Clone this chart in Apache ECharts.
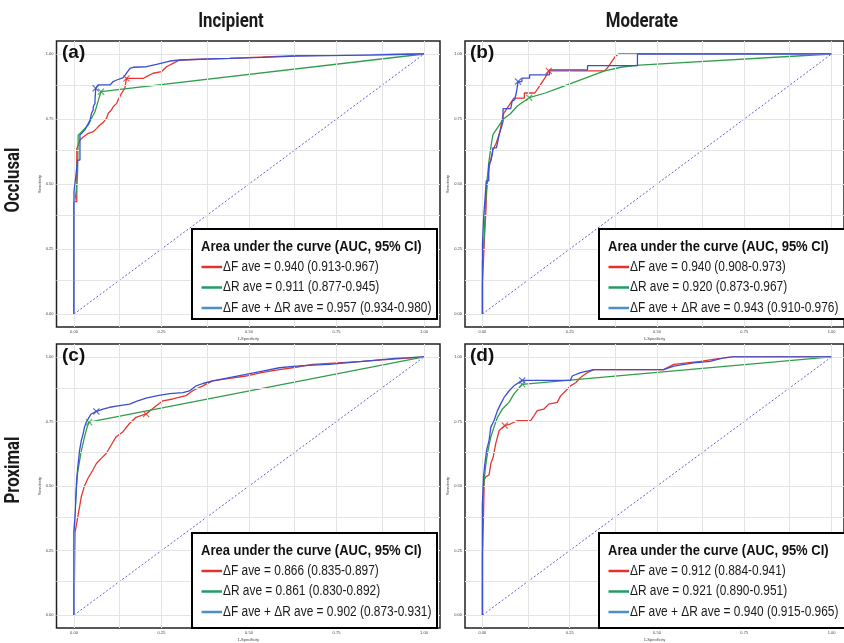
<!DOCTYPE html>
<html><head><meta charset="utf-8">
<script src="https://cdn.jsdelivr.net/npm/echarts@6/dist/echarts.min.js"></script>
<style>html,body{margin:0;padding:0;background:#fff}#c{width:844px;height:643px}</style>
</head><body><div id="c"></div>
<script>
// ---------- data ----------
const colHeaders = ['Incipient', 'Moderate'];
const rowHeaders = ['Occlusal', 'Proximal'];
const panelTags = ['(a)', '(b)', '(c)', '(d)'];
const tickValues = [0, 0.25, 0.5, 0.75, 1];
const tickLabels = ['0.00', '0.25', '0.50', '0.75', '1.00'];
const gridValues = [0, 0.125, 0.25, 0.375, 0.5, 0.625, 0.75, 0.875, 1];
const xAxisTitle = '1-Specificity';
const yAxisTitle = 'Sensitivity';
const legendTitle = 'Area under the curve (AUC, 95% CI)';
const diag = [[0, 0], [1, 1]];

const a_auc = ['ΔF ave = 0.940 (0.913-0.967)', 'ΔR ave = 0.911 (0.877-0.945)', 'ΔF ave + ΔR ave = 0.957 (0.934-0.980)'];
const b_auc = ['ΔF ave = 0.940 (0.908-0.973)', 'ΔR ave = 0.920 (0.873-0.967)', 'ΔF ave + ΔR ave = 0.943 (0.910-0.976)'];
const c_auc = ['ΔF ave = 0.866 (0.835-0.897)', 'ΔR ave = 0.861 (0.830-0.892)', 'ΔF ave + ΔR ave = 0.902 (0.873-0.931)'];
const d_auc = ['ΔF ave = 0.912 (0.884-0.941)', 'ΔR ave = 0.921 (0.890-0.951)', 'ΔF ave + ΔR ave = 0.940 (0.915-0.965)'];

// (a) occlusal incipient
const a_F = [[0,0],[0,0.432],[0.008,0.432],[0.008,0.637],[0.012,0.65],[0.017,0.669],[0.027,0.682],[0.041,0.695],[0.055,0.701],[0.065,0.714],[0.074,0.727],[0.084,0.737],[0.093,0.753],[0.098,0.772],[0.107,0.785],[0.112,0.797],[0.122,0.81],[0.126,0.823],[0.131,0.836],[0.136,0.849],[0.145,0.868],[0.15,0.906],[0.198,0.906],[0.207,0.913],[0.226,0.926],[0.25,0.932],[0.264,0.951],[0.283,0.964],[0.302,0.977],[0.444,0.983],[0.634,0.994],[1,1]];
const a_R = [[0,0],[0,0.419],[0.005,0.458],[0.008,0.496],[0.01,0.535],[0.012,0.688],[0.022,0.701],[0.031,0.714],[0.041,0.727],[0.05,0.753],[0.06,0.778],[0.067,0.81],[0.077,0.855],[1,1]];
const a_FR = [[0,0],[0,0.471],[0.005,0.471],[0.005,0.528],[0.01,0.528],[0.01,0.592],[0.017,0.592],[0.017,0.688],[0.022,0.695],[0.031,0.708],[0.036,0.721],[0.041,0.733],[0.046,0.746],[0.048,0.759],[0.05,0.772],[0.055,0.785],[0.055,0.797],[0.06,0.81],[0.06,0.823],[0.062,0.868],[0.069,0.881],[0.103,0.881],[0.112,0.894],[0.122,0.9],[0.141,0.909],[0.15,0.926],[0.16,0.945],[0.169,0.949],[0.207,0.951],[0.236,0.96],[0.274,0.973],[0.302,0.977],[0.387,0.981],[0.444,0.983],[0.539,0.987],[0.634,0.992],[0.824,0.996],[1,1]];
const a_cut = [[0.15,0.906],[0.077,0.855],[0.062,0.868]];

// (b) occlusal moderate
const b_F = [[0,0],[0,0.12],[0.003,0.12],[0.003,0.21],[0.006,0.21],[0.006,0.3],[0.01,0.4],[0.012,0.47],[0.015,0.52],[0.02,0.57],[0.025,0.6],[0.03,0.63],[0.04,0.66],[0.05,0.7],[0.055,0.74],[0.06,0.77],[0.07,0.79],[0.08,0.81],[0.09,0.83],[0.12,0.83],[0.12,0.85],[0.15,0.85],[0.16,0.87],[0.17,0.89],[0.18,0.91],[0.19,0.935],[0.35,0.935],[0.36,0.95],[0.37,0.97],[0.38,0.99],[0.39,1],[1,1]];
const b_R = [[0,0],[0,0.2],[0.005,0.3],[0.008,0.4],[0.012,0.5],[0.018,0.58],[0.025,0.65],[0.03,0.69],[0.04,0.71],[0.05,0.73],[0.06,0.75],[0.08,0.77],[0.1,0.8],[0.134,0.832],[0.18,0.85],[0.22,0.87],[0.26,0.89],[0.3,0.91],[0.35,0.935],[0.4,0.95],[0.45,0.957],[1,1]];
const b_FR = [[0,0],[0,0.27],[0.004,0.27],[0.004,0.385],[0.007,0.385],[0.007,0.436],[0.011,0.512],[0.018,0.512],[0.018,0.576],[0.024,0.589],[0.028,0.614],[0.03,0.639],[0.04,0.639],[0.045,0.671],[0.049,0.697],[0.054,0.716],[0.059,0.741],[0.059,0.79],[0.081,0.79],[0.085,0.818],[0.092,0.824],[0.097,0.85],[0.102,0.894],[0.113,0.894],[0.113,0.907],[0.135,0.907],[0.135,0.92],[0.192,0.92],[0.192,0.939],[0.301,0.939],[0.301,0.955],[0.444,0.955],[0.444,1],[1,1]];
const b_cut = [[0.19,0.935],[0.134,0.832],[0.102,0.894]];

// (c) proximal incipient
const c_F = [[0,0],[0.003,0.32],[0.007,0.351],[0.012,0.357],[0.016,0.42],[0.021,0.46],[0.03,0.5],[0.04,0.53],[0.054,0.562],[0.064,0.587],[0.078,0.607],[0.092,0.626],[0.106,0.658],[0.12,0.69],[0.139,0.709],[0.158,0.741],[0.177,0.766],[0.206,0.779],[0.235,0.811],[0.254,0.83],[0.282,0.837],[0.32,0.85],[0.339,0.869],[0.368,0.888],[0.396,0.907],[0.444,0.917],[0.491,0.926],[0.539,0.94],[0.587,0.951],[0.634,0.96],[0.682,0.971],[0.824,0.983],[1,1]];
const c_R = [[0,0],[0,0.32],[0.005,0.45],[0.01,0.55],[0.02,0.63],[0.03,0.69],[0.038,0.73],[0.043,0.747],[1,1]];
const c_FR = [[0,0],[0,0.319],[0.004,0.409],[0.007,0.511],[0.011,0.575],[0.016,0.639],[0.021,0.677],[0.026,0.702],[0.03,0.728],[0.035,0.747],[0.043,0.766],[0.049,0.779],[0.064,0.789],[0.083,0.798],[0.102,0.805],[0.13,0.811],[0.159,0.817],[0.178,0.828],[0.206,0.84],[0.235,0.849],[0.273,0.858],[0.311,0.862],[0.33,0.868],[0.349,0.888],[0.368,0.897],[0.396,0.907],[0.444,0.92],[0.491,0.932],[0.539,0.945],[0.587,0.958],[0.634,0.964],[0.682,0.968],[0.729,0.971],[0.824,0.983],[0.919,0.994],[1,1]];
const c_cut = [[0.206,0.779],[0.043,0.747],[0.064,0.789]];

// (d) proximal moderate
const d_F = [[0,0],[0,0.23],[0.003,0.383],[0.005,0.524],[0.01,0.536],[0.019,0.543],[0.024,0.587],[0.031,0.613],[0.038,0.664],[0.048,0.715],[0.064,0.734],[0.081,0.741],[0.1,0.753],[0.138,0.753],[0.148,0.773],[0.157,0.792],[0.176,0.798],[0.19,0.817],[0.214,0.824],[0.224,0.849],[0.238,0.868],[0.252,0.888],[0.267,0.9],[0.281,0.92],[0.3,0.939],[0.319,0.951],[0.519,0.951],[0.548,0.971],[0.624,0.983],[0.69,0.996],[0.719,1],[1,1]];
const d_R = [[0,0],[0,0.43],[0.005,0.524],[0.01,0.587],[0.016,0.639],[0.024,0.69],[0.033,0.728],[0.043,0.766],[0.057,0.798],[0.076,0.824],[0.09,0.856],[0.114,0.894],[1,1]];
const d_FR = [[0,0],[0,0.434],[0.003,0.536],[0.007,0.587],[0.012,0.639],[0.019,0.677],[0.024,0.728],[0.033,0.753],[0.043,0.792],[0.052,0.817],[0.062,0.843],[0.076,0.868],[0.09,0.888],[0.114,0.909],[0.252,0.909],[0.257,0.926],[0.281,0.939],[0.319,0.951],[0.519,0.951],[0.548,0.964],[0.605,0.977],[0.652,0.983],[0.69,0.996],[0.719,1],[1,1]];
const d_cut = [[0.064,0.734],[0.114,0.894],[0.114,0.909]];

// ---------- styling / layout ----------
const LINE_COL = ['#e4382f', '#2f9e4a', '#3a4fd4'];
const LEG_COL = ['#e3312c', '#1e9f62', '#4b8fca'];
const DIAG_COL = '#5d5dd6';
const GRIDLINE_COL = '#e4e4e4';
const LEG_FONT = "'Liberation Sans',Arial,sans-serif";
const HEAD_FONT = "Roboto,'Noto Sans',sans-serif";
const CROSS = 'path://M0,1.2L1.2,0L5,3.8L8.8,0L10,1.2L6.2,5L10,8.8L8.8,10L5,6.2L1.2,10L0,8.8L3.8,5Z';
const TOP_Z = 100;

const panels = [
  {F: a_F, R: a_R, FR: a_FR, cut: a_cut, auc: a_auc, box: {left: 56.5, top: 41, width: 383.5, height: 286}, xmax: 1.0457, leg: {left: 192, top: 229, w: 245, h: 90}, tag: {x: 62, y: 53}},
  {F: b_F, R: b_R, FR: b_FR, cut: b_cut, auc: b_auc, box: {left: 465, top: 41, width: 380, height: 286}, xmax: 1.0357, leg: {left: 599, top: 229, w: 250, h: 90}, tag: {x: 470, y: 53}},
  {F: c_F, R: c_R, FR: c_FR, cut: c_cut, auc: c_auc, box: {left: 56.5, top: 344, width: 383.5, height: 287}, xmax: 1.0457, leg: {left: 192, top: 533, w: 245, h: 95}, tag: {x: 62, y: 356}},
  {F: d_F, R: d_R, FR: d_FR, cut: d_cut, auc: d_auc, box: {left: 465, top: 344, width: 380, height: 287}, xmax: 1.0357, leg: {left: 599, top: 533, w: 250, h: 95}, tag: {x: 470, y: 356}}
];

const fmtTick = v => { const i = tickValues.indexOf(v); return i >= 0 ? tickLabels[i] : ''; };

const grid = [], xAxis = [], yAxis = [], series = [], graphic = [];

panels.forEach((p, i) => {
  grid.push(Object.assign({show: true, borderColor: '#222', borderWidth: 1.5, backgroundColor: '#fff'}, p.box));
  const axCommon = {
    gridIndex: i, type: 'value', min: -0.05,
    axisLine: {show: false}, splitLine: {show: false},
    axisTick: {show: true, customValues: tickValues, length: 2, lineStyle: {color: '#555', width: 0.6}},
    axisLabel: {customValues: tickValues, formatter: fmtTick, fontSize: 4, color: '#444', margin: 3},
    nameLocation: 'middle', nameTextStyle: {fontSize: 4, color: '#444'}
  };
  xAxis.push(Object.assign({}, axCommon, {max: p.xmax, name: xAxisTitle, nameGap: 10}));
  yAxis.push(Object.assign({}, axCommon, {max: 1.05, name: yAxisTitle, nameGap: 13}));

  const ax = {xAxisIndex: i, yAxisIndex: i};
  series.push(Object.assign({
    type: 'line', data: [], silent: true, z: 1, symbol: 'none',
    markLine: {
      silent: true, symbol: 'none', label: {show: false}, animation: false,
      lineStyle: {color: GRIDLINE_COL, width: 1, type: 'solid'},
      data: gridValues.map(v => ({xAxis: v})).concat(gridValues.map(v => ({yAxis: v})))
    }
  }, ax));
  series.push(Object.assign({type: 'line', data: diag, symbol: 'none', silent: true, z: 2,
    lineStyle: {color: DIAG_COL, width: 1, type: [2, 2]}}, ax));
  const order = [1, 0, 2];
  const curves = [p.F, p.R, p.FR];
  order.forEach(k => {
    series.push(Object.assign({name: p.auc[k], type: 'line', data: curves[k], symbol: 'none', z: 3 + k,
      lineStyle: {color: LINE_COL[k], width: 1.3}, itemStyle: {color: LINE_COL[k]}}, ax));
  });
  series.push(Object.assign({type: 'scatter', symbol: CROSS, symbolSize: 7, z: 7, silent: true,
    data: p.cut.map((c, k) => ({value: c, itemStyle: {color: LINE_COL[k]}}))}, ax));

  // legend box (AUC key)
  const L = p.leg;
  const children = [
    {type: 'rect', z: TOP_Z, shape: {x: 0, y: 0, width: L.w, height: L.h}, style: {fill: '#fff', stroke: '#000', lineWidth: 2}},
    {type: 'text', z: TOP_Z + 1, x: 9, y: 18.5, scaleX: 0.93,
      style: {text: legendTitle, font: 'bold 14px ' + LEG_FONT, fill: '#111', align: 'left', verticalAlign: 'middle'}}
  ];
  p.auc.forEach((t, k) => {
    const yy = 38 + k * 20.5;
    children.push({type: 'line', z: TOP_Z + 1, shape: {x1: 9.5, y1: yy, x2: 30, y2: yy}, style: {stroke: LEG_COL[k], lineWidth: 2.5}});
    children.push({type: 'text', z: TOP_Z + 1, x: 31, y: yy, scaleX: 0.85,
      style: {text: t, font: '14px ' + LEG_FONT, fill: '#1a1a1a', align: 'left', verticalAlign: 'middle'}});
  });
  graphic.push({type: 'group', x: L.left, y: L.top, z: TOP_Z, children});

  graphic.push({type: 'text', x: p.tag.x, y: p.tag.y, z: TOP_Z,
    style: {text: panelTags[i], font: "bold 19px 'Liberation Sans',Arial,sans-serif", fill: '#111', align: 'left', verticalAlign: 'middle'}});
});

const headStyle = t => ({text: t, font: 'bold 21px ' + HEAD_FONT, fill: '#1a1a1a', align: 'center', verticalAlign: 'middle'});
graphic.push({type: 'text', z: TOP_Z, x: 231, y: 22, scaleX: 0.8, style: headStyle(colHeaders[0])});
graphic.push({type: 'text', z: TOP_Z, x: 642, y: 22, scaleX: 0.8, style: headStyle(colHeaders[1])});
graphic.push({type: 'text', z: TOP_Z, x: 14, y: 180, rotation: Math.PI / 2, scaleX: 0.8, style: headStyle(rowHeaders[0])});
graphic.push({type: 'text', z: TOP_Z, x: 14, y: 470, rotation: Math.PI / 2, scaleX: 0.8, style: headStyle(rowHeaders[1])});

const chart = echarts.init(document.getElementById('c'));
chart.setOption({animation: false, backgroundColor: '#fff', grid, xAxis, yAxis, series, graphic});
</script></body></html>
